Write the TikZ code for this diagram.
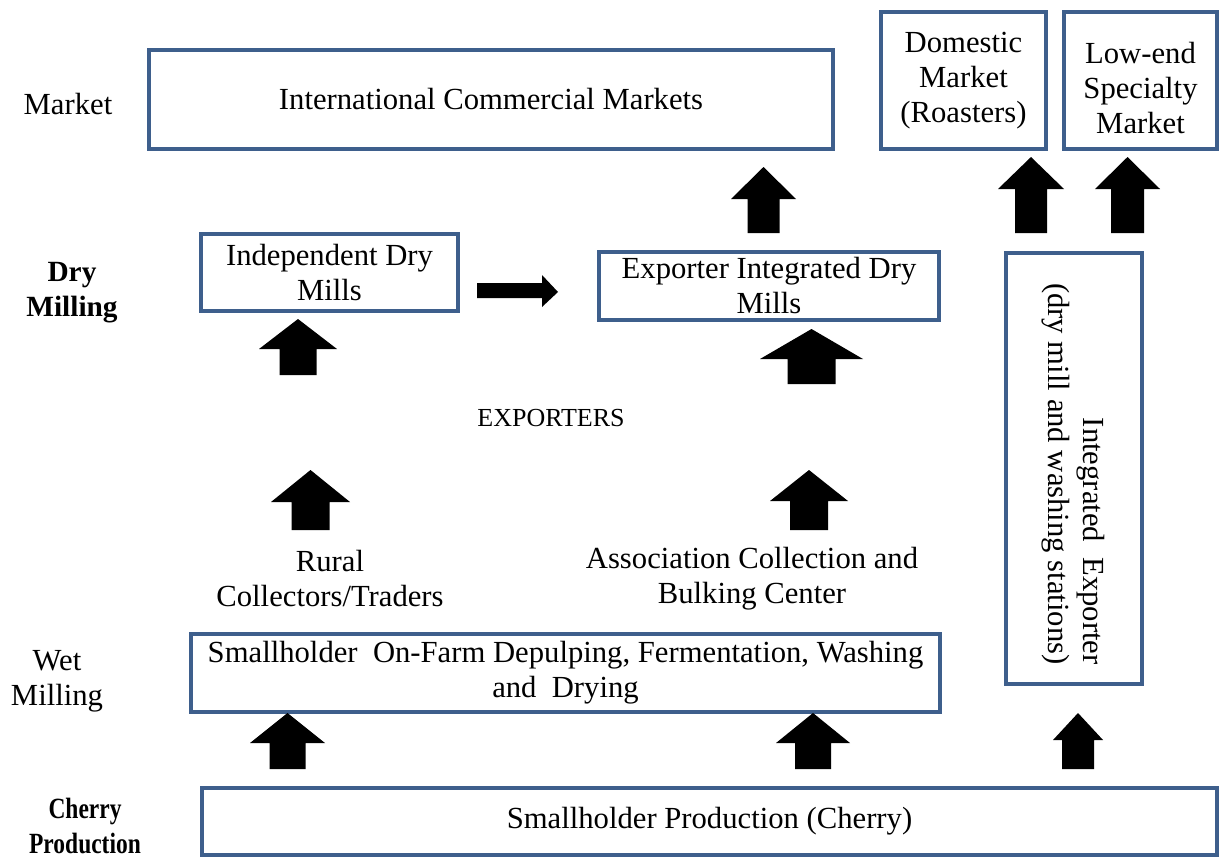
\documentclass[tikz,border=0pt]{standalone}
\usepackage{fontspec}
\usepackage{graphicx}
\setmainfont{Liberation Serif}
\definecolor{boxblue}{RGB}{62,95,140}
\newcommand\upblk[6]{\fill[black] (#1,#2) -- ({#1+#5},#3) -- ({#1+#6},#3) -- ({#1+#6},#4) -- ({#1-#6},#4) -- ({#1-#6},#3) -- ({#1-#5},#3) -- cycle;}
\newcommand\narrowbold[1]{\scalebox{0.8}[1]{\fontsize{22}{26.25}\selectfont\bfseries #1}}
\begin{document}
\begin{tikzpicture}[x=0.75pt,y=-0.75pt,
  every node/.style={font=\fontsize{23}{26.25}\selectfont},
  box/.style={draw=boxblue,line width=3pt,align=center,inner sep=0pt},
  lbl/.style={align=center,inner sep=0pt},
  blbl/.style={align=center,inner sep=0pt,font=\fontsize{22}{26.25}\selectfont\bfseries}]
\useasboundingbox (0,0) rectangle (1220,857);
% boxes
\node[box,minimum width=513pt,minimum height=74.25pt] (icm) at (491,99.5) {International Commercial Markets};
\node[box,minimum width=123.75pt,minimum height=102.75pt] (dom) at (963.5,80.5) {Domestic\\Market\\(Roasters)};
\node[box,minimum width=114.75pt,minimum height=102.75pt] (low) at (1140.5,80.5) {};
\node[lbl] (lowt) at (1140.5,88) {Low-end\\Specialty\\Market};
\node[box,minimum width=192.75pt,minimum height=57.75pt] (idm) at (329.5,272.5) {Independent Dry\\Mills};
\node[box,minimum width=255pt,minimum height=51pt] (eidm) at (769,286) {Exporter Integrated Dry\\Mills};
\node[box,minimum width=102pt,minimum height=323.25pt] (ie) at (1074,468.5) {};
\node[lbl,rotate=-90,align=right,anchor=east] (iet) at (1073.5,665) {Integrated\ \ Exporter\\(dry mill and washing stations)};
\node[box,minimum width=561.75pt,minimum height=58.5pt] (sof) at (565.5,673) {Smallholder\ \ On-Farm Depulping, Fermentation, Washing\\and\ \ Drying};
\node[box,minimum width=761.25pt,minimum height=50.25pt] (sp) at (709.5,821.5) {Smallholder Production (Cherry)};
% row labels
\node[lbl] (rmarket) at (68,104) {Market};
\node[blbl] (rdry) at (72,293) {Dry\\Milling};
\node[lbl,anchor=base] (rcherry1) at (85,818) {\narrowbold{Cherry}};
\node[lbl,anchor=base] (rcherry2) at (85,853) {\narrowbold{Production}};
\node[lbl] (rwet) at (57,681) {Wet\\Milling};
% free labels
\node[lbl] (rural) at (330,579) {Rural\\Collectors/Traders};
\node[lbl] (assoc) at (752,579) {Association Collection and\\Bulking Center};
\node[lbl,font=\fontsize{19.5}{22}\selectfont] (exp) at (551,418) {EXPORTERS};
% block arrows
\upblk{763.5}{167}{199}{233}{32.5}{16}
\upblk{811.5}{329}{359}{384}{51.5}{24}
\upblk{298}{319}{349}{375}{39}{18.5}
\upblk{1031}{157}{189}{233}{33}{16}
\upblk{1127.5}{157}{189}{233}{32.5}{16.5}
\upblk{310.5}{470}{502}{530}{39.5}{19}
\upblk{809}{470}{501}{530}{39}{19}
\upblk{287.5}{713}{743}{769}{37.5}{18}
\upblk{813}{713}{743}{769}{37}{18}
\upblk{1078}{713}{740}{769}{25}{16}
\fill[black] (477,283) -- (542,283) -- (542,275) -- (558,292) -- (542,307) -- (542,298) -- (477,298) -- cycle;
\end{tikzpicture}
\end{document}
